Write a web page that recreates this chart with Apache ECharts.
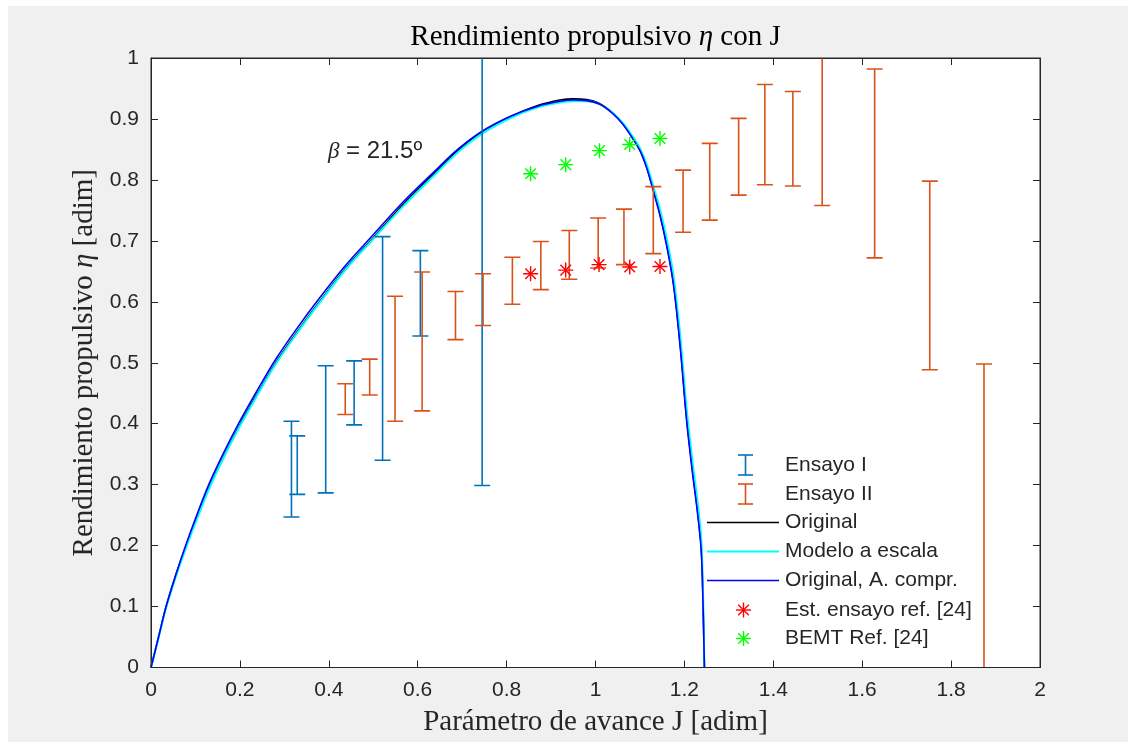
<!DOCTYPE html>
<html>
<head>
<meta charset="utf-8">
<script src="https://cdn.jsdelivr.net/npm/echarts/dist/echarts.min.js"></script>
<style>
  html, body { margin: 0; padding: 0; background: #ffffff; }
  #frame { position: absolute; left: 8px; top: 6px; width: 1120px; height: 736px; background: #f0f0f0; }
  #chart { position: absolute; left: 0; top: 0; width: 1135px; height: 742px; }
</style>
</head>
<body>
<div id="frame"></div>
<div id="chart"></div>
<script>
// Advance ratio J sampled along the three efficiency curves
const curveJ = [0, 0.017, 0.034, 0.055, 0.078, 0.103, 0.13, 0.162, 0.197, 0.237, 0.28, 0.328, 0.38, 0.438, 0.50,
  0.565, 0.635, 0.69, 0.745, 0.81, 0.87, 0.92, 0.95, 0.98, 1.01, 1.04, 1.062, 1.08, 1.10, 1.115, 1.13, 1.145,
  1.16, 1.175, 1.19, 1.205, 1.218, 1.23, 1.238, 1.242, 1.245];

// Propulsive efficiency: original propeller
const etaOriginal = [0, 0.05, 0.10, 0.15, 0.198, 0.246, 0.294, 0.344, 0.394, 0.446, 0.499, 0.55, 0.601, 0.655, 0.705,
  0.758, 0.809, 0.848, 0.879, 0.904, 0.922, 0.931, 0.933, 0.932, 0.925, 0.909, 0.892, 0.873, 0.849, 0.821, 0.784, 0.744,
  0.695, 0.633, 0.534, 0.41, 0.325, 0.255, 0.195, 0.105, 0];

// Propulsive efficiency: scale model
const etaScaled = [0, 0.049, 0.098, 0.147, 0.195, 0.243, 0.292, 0.342, 0.392, 0.444, 0.497, 0.548, 0.599, 0.653, 0.703,
  0.755, 0.806, 0.845, 0.876, 0.902, 0.919, 0.927, 0.929, 0.929, 0.924, 0.909, 0.893, 0.875, 0.852, 0.826, 0.79, 0.752,
  0.705, 0.645, 0.55, 0.425, 0.34, 0.27, 0.21, 0.12, 0];

// Propulsive efficiency: original propeller with compressibility
const etaCompressible = [0, 0.05, 0.10, 0.15, 0.20, 0.25, 0.30, 0.35, 0.40, 0.452, 0.505, 0.556, 0.607, 0.66, 0.71,
  0.762, 0.812, 0.850, 0.880, 0.905, 0.921, 0.929, 0.931, 0.930, 0.924, 0.908, 0.891, 0.872, 0.848, 0.820, 0.782, 0.742,
  0.692, 0.630, 0.530, 0.405, 0.32, 0.25, 0.19, 0.10, 0];

// Test I: [J, lower, upper]
const ensayoI = [
  [0.316, 0.247, 0.404], [0.329, 0.284, 0.380], [0.393, 0.2865, 0.495], [0.457, 0.398, 0.503],
  [0.521, 0.340, 0.707], [0.606, 0.544, 0.684], [0.745, 0.2985, 1.05]
];

// Test II: [J, lower, upper]
const ensayoII = [
  [0.437, 0.415, 0.4655], [0.492, 0.447, 0.506], [0.549, 0.404, 0.609], [0.610, 0.421, 0.649],
  [0.685, 0.538, 0.617], [0.747, 0.561, 0.646], [0.813, 0.596, 0.673], [0.877, 0.620, 0.699],
  [0.941, 0.637, 0.717], [1.006, 0.6555, 0.7376], [1.064, 0.661, 0.752], [1.130, 0.679, 0.789],
  [1.197, 0.714, 0.816], [1.257, 0.734, 0.860], [1.322, 0.775, 0.901], [1.381, 0.792, 0.9565],
  [1.444, 0.790, 0.945], [1.510, 0.758, 1.03], [1.628, 0.672, 0.982], [1.752, 0.4885, 0.798],
  [1.874, -0.05, 0.498]
];

// Reference [24]: estimated from tests, and BEMT prediction
const estEnsayoRef = [[0.854, 0.646], [0.933, 0.652], [1.008, 0.661], [1.077, 0.657], [1.145, 0.658]];
const bemtRef = [[0.854, 0.810], [0.933, 0.825], [1.009, 0.848], [1.077, 0.858], [1.145, 0.868]];

const xRange = [0, 2], xStep = 0.2;
const yRange = [0, 1], yStep = 0.1;

const legendNames = ['Ensayo I', 'Ensayo II', 'Original', 'Modelo a escala', 'Original, A. compr.',
  'Est. ensayo ref. [24]', 'BEMT Ref. [24]'];
const betaText = '= 21.5º';
const betaAt = [0.398, 0.846];

const C = {
  ensI: '#0072BD', ensII: '#D95319', orig: '#000000', scaled: '#00FFFF', comp: '#0000FF',
  est: '#FF0000', bemt: '#00FF00', axis: '#262626'
};
const SANS = '"Liberation Sans", Arial, Helvetica, sans-serif';
const SERIF = '"Liberation Serif", "Times New Roman", serif';

const pairs = (xs, ys) => xs.map((x, i) => [x, ys[i]]);

function errorBarShapes(x, yLo, yHi, color, hw) {
  const st = { stroke: color, lineWidth: 1.6, fill: null };
  return [
    { type: 'line', shape: { x1: x, y1: yLo, x2: x, y2: yHi }, style: st },
    { type: 'line', shape: { x1: x - hw, y1: yLo, x2: x + hw, y2: yLo }, style: st },
    { type: 'line', shape: { x1: x - hw, y1: yHi, x2: x + hw, y2: yHi }, style: st }
  ];
}

function asteriskShapes(cx, cy, r, color) {
  const st = { stroke: color, lineWidth: 1.4, fill: null };
  const d = r * Math.SQRT1_2;
  return [
    { type: 'line', shape: { x1: cx - r, y1: cy, x2: cx + r, y2: cy }, style: st },
    { type: 'line', shape: { x1: cx, y1: cy - r, x2: cx, y2: cy + r }, style: st },
    { type: 'line', shape: { x1: cx - d, y1: cy - d, x2: cx + d, y2: cy + d }, style: st },
    { type: 'line', shape: { x1: cx - d, y1: cy + d, x2: cx + d, y2: cy - d }, style: st }
  ];
}

function renderErrorBar(params, api) {
  const x = api.value(0);
  const lo = api.coord([x, api.value(1)]);
  const hi = api.coord([x, api.value(2)]);
  return { type: 'group', children: errorBarShapes(lo[0], lo[1], hi[1], api.visual('color'), 8) };
}

function renderAsterisk(params, api) {
  const p = api.coord([api.value(0), api.value(1)]);
  return { type: 'group', children: asteriskShapes(p[0], p[1], 7.5, api.visual('color')) };
}

const tickFmt = v => String(parseFloat(v.toFixed(2)));
const axisLineStyle = { color: C.axis, width: 1 };

function makeAxis(range, step, pos, withLabels, name, nameGap) {
  return {
    type: 'value', min: range[0], max: range[1], interval: step, position: pos,
    axisLine: { show: true, onZero: false, lineStyle: axisLineStyle },
    axisTick: { show: true, inside: true, length: 7, lineStyle: axisLineStyle },
    axisLabel: withLabels
      ? { show: true, color: C.axis, fontSize: 21, fontFamily: SANS, margin: 12, formatter: tickFmt }
      : { show: false },
    splitLine: { show: false },
    name: name || '', nameLocation: 'middle', nameGap: nameGap || 0,
    nameTextStyle: {
      color: C.axis, fontSize: 29, fontFamily: SERIF,
      rich: {
        r: { fontSize: 29, fontFamily: SERIF, color: C.axis },
        i: { fontSize: 29, fontFamily: SERIF, fontStyle: 'italic', color: C.axis }
      }
    }
  };
}

const chart = echarts.init(document.getElementById('chart'), null, { renderer: 'canvas' });

const curveLine = (name, eta, color, width, z) => ({
  name: name, type: 'line', data: pairs(curveJ, eta), showSymbol: false, symbol: 'none',
  smooth: 0.35, lineStyle: { color: color, width: width }, z: z
});

const option = {
  animation: false,
  backgroundColor: 'transparent',
  grid: { left: 151, right: 95, top: 58, bottom: 74.5, show: true, backgroundColor: '#ffffff', borderWidth: 0 },
  xAxis: [
    makeAxis(xRange, xStep, 'bottom', true, '{r|Parámetro de avance J [adim]}', 40),
    makeAxis(xRange, xStep, 'top', false)
  ],
  yAxis: [
    makeAxis(yRange, yStep, 'left', true, '{r|Rendimiento propulsivo }{i|η}{r| [adim]}', 52),
    makeAxis(yRange, yStep, 'right', false)
  ],
  series: [
    curveLine(legendNames[2], etaOriginal, C.orig, 1.6, 2),
    curveLine(legendNames[3], etaScaled, C.scaled, 2, 3),
    curveLine(legendNames[4], etaCompressible, C.comp, 1.6, 4),
    { name: legendNames[0], type: 'custom', data: ensayoI, renderItem: renderErrorBar, clip: true,
      encode: { x: 0, y: [1, 2] }, itemStyle: { color: C.ensI }, z: 5 },
    { name: legendNames[1], type: 'custom', data: ensayoII, renderItem: renderErrorBar, clip: true,
      encode: { x: 0, y: [1, 2] }, itemStyle: { color: C.ensII }, z: 6 },
    { name: legendNames[5], type: 'custom', data: estEnsayoRef, renderItem: renderAsterisk, clip: true,
      encode: { x: 0, y: 1 }, itemStyle: { color: C.est }, z: 7 },
    { name: legendNames[6], type: 'custom', data: bemtRef, renderItem: renderAsterisk, clip: true,
      encode: { x: 0, y: 1 }, itemStyle: { color: C.bemt }, z: 7 }
  ]
};
chart.setOption(option);

// Plot box, title, annotation and legend
const p0 = chart.convertToPixel({ xAxisIndex: 0, yAxisIndex: 0 }, [xRange[0], yRange[0]]);
const p1 = chart.convertToPixel({ xAxisIndex: 0, yAxisIndex: 0 }, [xRange[1], yRange[1]]);
const betaPx = chart.convertToPixel({ xAxisIndex: 0, yAxisIndex: 0 }, betaAt);

const legendX = { icon: 743.5, lineFrom: 707, lineTo: 779, text: 785 };
const legendRows = [465, 494, 522.5, 551.5, 580.5, 610, 638.5];
const legendItems = [];
const txt = (y, s) => ({ type: 'text', x: legendX.text, y: y, z: 50,
  style: { text: s, fill: C.axis, font: '21px ' + SANS, verticalAlign: 'middle', align: 'left' } });
const seg = (y, color, w) => ({ type: 'line', z: 50,
  shape: { x1: legendX.lineFrom, y1: y, x2: legendX.lineTo, y2: y }, style: { stroke: color, lineWidth: w } });

legendItems.push(...errorBarShapes(legendX.icon + 2, legendRows[0] + 10, legendRows[0] - 10, C.ensI, 7.5).map(s => ({ ...s, z: 50 })));
legendItems.push(txt(legendRows[0], legendNames[0]));
legendItems.push(...errorBarShapes(legendX.icon + 2, legendRows[1] + 10, legendRows[1] - 10, C.ensII, 7.5).map(s => ({ ...s, z: 50 })));
legendItems.push(txt(legendRows[1], legendNames[1]));
legendItems.push(seg(legendRows[2], C.orig, 1.6), txt(legendRows[2], legendNames[2]));
legendItems.push(seg(legendRows[3], C.scaled, 2), txt(legendRows[3], legendNames[3]));
legendItems.push(seg(legendRows[4], C.comp, 1.6), txt(legendRows[4], legendNames[4]));
legendItems.push(...asteriskShapes(legendX.icon, legendRows[5], 7.5, C.est).map(s => ({ ...s, z: 50 })));
legendItems.push(txt(legendRows[5], legendNames[5]));
legendItems.push(...asteriskShapes(legendX.icon, legendRows[6], 7.5, C.bemt).map(s => ({ ...s, z: 50 })));
legendItems.push(txt(legendRows[6], legendNames[6]));

chart.setOption({
  graphic: [
    { type: 'rect', z: 40, silent: true,
      shape: { x: p0[0], y: p1[1], width: p1[0] - p0[0], height: p0[1] - p1[1] },
      style: { fill: null, stroke: C.axis, lineWidth: 1 } },
    { type: 'text', x: (p0[0] + p1[0]) / 2, y: 37, z: 40,
      style: {
        text: '{r|Rendimiento propulsivo }{i|η}{r| con J}', align: 'center', verticalAlign: 'middle',
        rich: {
          r: { font: '29px ' + SERIF, fill: '#000000' },
          i: { font: 'italic 29px ' + SERIF, fill: '#000000' }
        }
      } },
    { type: 'text', x: betaPx[0], y: betaPx[1], z: 40,
      style: {
        text: '{b|β}{t| ' + betaText + '}', align: 'left', verticalAlign: 'middle',
        rich: {
          b: { font: 'italic 23px ' + SERIF, fill: '#262626' },
          t: { font: '24px ' + SANS, fill: '#262626' }
        }
      } },
    ...legendItems
  ]
});
</script>
</body>
</html>
